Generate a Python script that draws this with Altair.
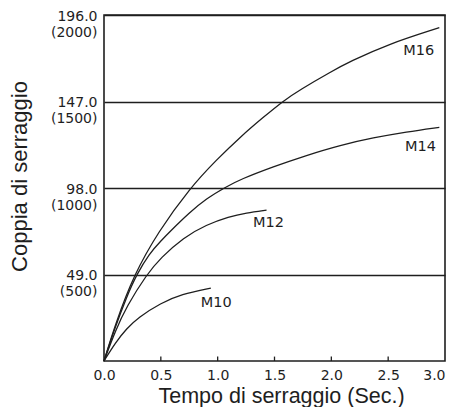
import altair as alt
import pandas as pd

# Curves (time in s, torque in N·m)
m10_x = [0, 0.1, 0.2, 0.3, 0.5, 0.68, 0.94]
m10_y = [0, 10.4, 18.4, 24.6, 32.8, 37.8, 41.3]
m12_x = [0, 0.1, 0.2, 0.375, 0.5, 0.7, 0.9, 1.1, 1.25, 1.43]
m12_y = [0, 17.2, 31.0, 49.0, 58.5, 70.0, 77.2, 81.8, 83.9, 85.5]
m14_x = [0, 0.1, 0.2, 0.287, 0.4, 0.5, 0.58, 0.75, 0.9, 1.07, 1.2, 1.49, 1.78, 2.08, 2.37, 2.66, 2.95]
m14_y = [0, 19.5, 36.5, 49, 61, 68, 73.3, 84, 92, 98.5, 102.9, 110.1, 116.5, 122.3, 126.5, 129.8, 132.4]
m16_x = [0, 0.1, 0.264, 0.478, 0.756, 0.99, 1.2, 1.4, 1.58, 1.72, 2.0, 2.16, 2.5, 2.95]
m16_y = [0, 21, 49, 73.3, 98, 114, 127, 138, 147.5, 153.5, 164, 169.5, 179.5, 188.8]

series = [("M10", m10_x, m10_y), ("M12", m12_x, m12_y),
          ("M14", m14_x, m14_y), ("M16", m16_x, m16_y)]

label_text = ["M10", "M12", "M14", "M16"]
label_x = [0.988, 1.447, 2.785, 2.769]
label_y = [33.0, 78.2, 121.1, 175.7]

y_ticks = [49, 98, 147, 196]
y_line1 = ["49.0", "98.0", "147.0", "196.0"]
y_line2 = ["(500)", "(1000)", "(1500)", "(2000)"]
x_ticks = [0, 0.5, 1.0, 1.5, 2.0, 2.5, 3.0]
x_inner_ticks = [0.5, 1.0, 1.5, 2.0, 2.5]

rows = []
for name, xs_, ys_ in series:
    for a, b in zip(xs_, ys_):
        rows.append({"serie": name, "t": a, "c": b})
df = pd.DataFrame(rows)
lab_df = pd.DataFrame({"txt": label_text, "t": label_x, "c": label_y})
tick_df = pd.DataFrame({"t": x_inner_ticks, "c0": [0] * len(x_inner_ticks),
                        "c1": [2.5] * len(x_inner_ticks)})

expr = "''"
for v, l1, l2 in zip(y_ticks, y_line1, y_line2):
    expr = f"datum.value == {v} ? ['{l1}', '{l2}'] : ({expr})"

xs = alt.Scale(domain=[0, 3], nice=False)
ys = alt.Scale(domain=[0, 196], nice=False)
INK = "#1e1e1e"

x_axis = alt.Axis(values=x_ticks, format=".1f", grid=False, ticks=False, tickSize=0,
                  domain=False, labelFont="DejaVu Sans", labelFontSize=14,
                  labelColor=INK, labelBaseline="alphabetic", labelPadding=18,
                  labelFlush=False,
                  labelAlign={"expr": "datum.value >= 3 ? 'right' : 'center'"},
                  title="Tempo di serraggio (Sec.)",
                  titleFont="Liberation Sans", titleFontSize=21.5, titleFontWeight="normal",
                  titleColor=INK, titleX=177, titleY=41, titleBaseline="alphabetic")
y_axis = alt.Axis(values=y_ticks, labelExpr=expr, grid=True, gridColor=INK,
                  gridWidth=1.3, gridOpacity=1, ticks=False, tickSize=0, domain=False,
                  labelFont="DejaVu Sans", labelFontSize=14, labelColor=INK,
                  labelBaseline="alphabetic", labelOffset=5, labelLineHeight=16,
                  labelPadding=7, labelAlign="right",
                  title="Coppia di serraggio", titleFont="Liberation Sans",
                  titleFontSize=22, titleFontWeight="normal", titleColor=INK,
                  titleX=-78, titleY=161, titleBaseline="alphabetic", titleAngle=270)

lines = alt.Chart(df).mark_line(color=INK, strokeWidth=1.3, interpolate="basis").encode(
    x=alt.X("t:Q", scale=xs, axis=x_axis),
    y=alt.Y("c:Q", scale=ys, axis=y_axis),
    detail="serie:N",
)

ticks = alt.Chart(tick_df).mark_rule(color=INK, strokeWidth=1.3).encode(
    x="t:Q", y="c0:Q", y2="c1:Q")

labels = alt.Chart(lab_df).mark_text(font="DejaVu Sans", fontSize=14.5, color=INK,
                                     align="center", baseline="middle").encode(
    x="t:Q", y="c:Q", text="txt:N")

chart = alt.layer(lines, ticks, labels).properties(
    width=341, height=346,
    autosize=alt.AutoSizeParams(type="none"),
    padding={"left": 96, "top": 7, "right": 1, "bottom": 46},
).configure_view(stroke=INK, strokeWidth=1.6)

chart.save("out.html", embed_options={"renderer": "svg", "actions": False})
